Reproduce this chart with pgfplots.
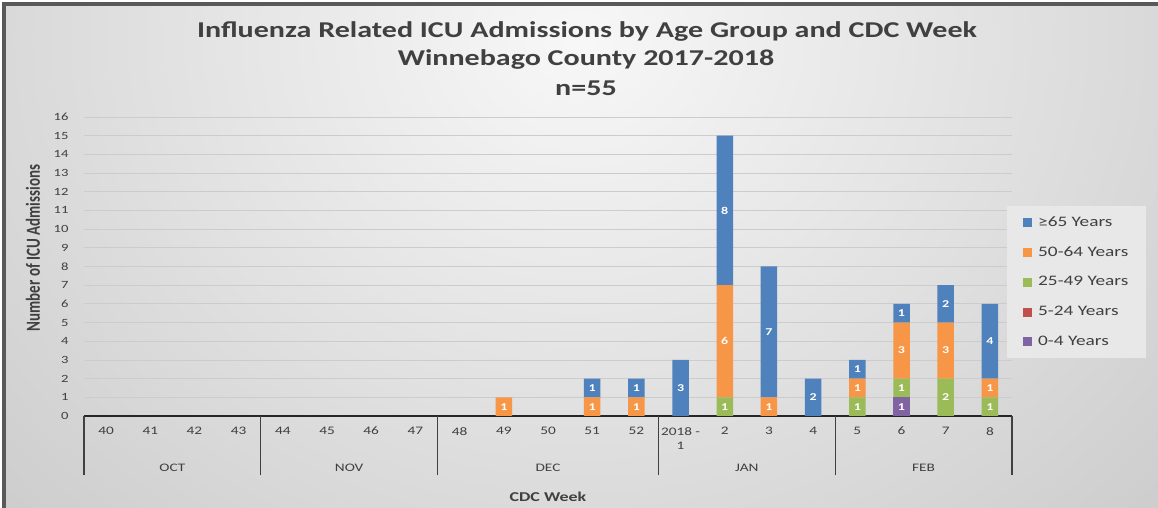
\documentclass[border=0pt]{standalone}
\usepackage{pgfplots}
\usepackage{pgfplotstable}
\pgfplotsset{compat=1.18}
\usepackage{fontspec}
\setmainfont[FakeStretch=1.33]{Carlito}
\newfontfamily\plain{Carlito}
\definecolor{c65}{HTML}{4F81BD}
\definecolor{c50}{HTML}{F79646}
\definecolor{c25}{HTML}{9BBB59}
\definecolor{c5}{HTML}{C0504D}
\definecolor{c0}{HTML}{8064A2}
\definecolor{txt}{HTML}{404040}
% x: 0..20 = weeks 40..52, 2018-1, 2..8
\pgfplotstableread{
x p r g o b
0 0 0 0 0 0
1 0 0 0 0 0
2 0 0 0 0 0
3 0 0 0 0 0
4 0 0 0 0 0
5 0 0 0 0 0
6 0 0 0 0 0
7 0 0 0 0 0
8 0 0 0 0 0
9 0 0 0 1 0
10 0 0 0 0 0
11 0 0 0 1 1
12 0 0 0 1 1
13 0 0 0 0 3
14 0 0 1 6 8
15 0 0 0 1 7
16 0 0 0 0 2
17 0 0 1 1 1
18 1 0 1 3 1
19 0 0 2 3 2
20 0 0 1 1 4
}\data
\begin{document}
\begin{tikzpicture}[x=1pt,y=1pt]
\useasboundingbox (0,0) rectangle (1158,508);
\begin{scope}
\clip (0,0) rectangle (1158,508);
\shade[inner color=white!97!black, outer color=black!32] (-821,-732) rectangle (1979,1668);
\end{scope}
\fill[black!65] (1.5,0) rectangle (6,506);
\fill[black!65] (1.5,501.5) rectangle (1158,505.5);
\fill[white] (0,505.5) rectangle (1158,508);
\fill[white] (0,0) rectangle (1.5,508);
\node[font=\fontsize{22.6}{27}\selectfont\bfseries, text=txt] at (587,508-31) {Influenza Related ICU Admissions by Age Group and CDC Week};
\node[font=\fontsize{22.6}{27}\selectfont\bfseries, text=txt] at (586,508-59) {Winnebago County 2017-2018};
\node[font=\fontsize{22.6}{27}\selectfont\bfseries, text=txt] at (586,508-88) {n=55};
\begin{axis}[
  at={(84pt,92pt)}, anchor=south west,
  scale only axis, width=928pt, height=299pt, clip=false,
  xmin=-0.5, xmax=20.5, ymin=0, ymax=16,
  ybar stacked, bar width=16.5pt,
  axis x line=bottom, axis y line=left,
  x axis line style={-, draw=black!85, line width=1.5pt},
  y axis line style={draw=none},
  ytick={0,...,16}, xtick={0,...,20},
  xticklabels={40,41,42,43,44,45,46,47,48,49,50,51,52,{2018 -\\1},2,3,4,5,6,7,8},
  major tick length=0pt,
  /pgf/number format/assume math mode=true,
  ymajorgrids, grid style={black!20, line width=0.8pt},
  yticklabel style={font=\fontsize{11}{12}\selectfont, text=txt, xshift=-12pt},
  xticklabel style={font=\fontsize{11.5}{14}\selectfont, text=txt, align=center, anchor=north, inner sep=0pt, yshift=-11pt},
  extra x ticks={-0.5,3.5,7.5,12.5,16.5,20.5},
  extra x tick labels={},
  extra x tick style={major tick length=59pt, tick align=outside, tick style={draw=txt, line width=1.3pt}, grid=none},
  nodes near coords={\pgfmathfloatifflags{\pgfplotspointmeta}{0}{}{\pgfmathprintnumber{\pgfplotspointmeta}}},
  every node near coord/.append style={font=\bfseries\fontsize{10.5}{12}\selectfont, text=white, anchor=center},
  reverse legend,
  legend style={at={(0.9946,0.7023)}, anchor=north west, fill=black!9, draw=none,
    font=\fontsize{14.5}{16}\selectfont, text=txt, inner xsep=16pt, inner ysep=8pt,
    row sep=12.8pt, nodes={inner sep=2pt, text height=10pt, text depth=3pt},
    /tikz/every odd column/.append style={column sep=4pt}},
  legend cell align=left,
  legend image code/.code={\fill[#1] (0pt,-4.5pt) rectangle (9pt,4.5pt);},
]
\addplot[fill=c0, draw=none] table[x=x,y=p]{\data};
\addlegendentry{0-4 Years}
\addplot[fill=c5, draw=none] table[x=x,y=r]{\data};
\addlegendentry{5-24 Years}
\addplot[fill=c25, draw=none] table[x=x,y=g]{\data};
\addlegendentry{25-49 Years}
\addplot[fill=c50, draw=none] table[x=x,y=o]{\data};
\addlegendentry{50-64 Years}
\addplot[fill=c65, draw=none] table[x=x,y=b]{\data};
\addlegendentry{≥65 Years}
\node[font=\fontsize{11.5}{13}\selectfont, text=txt] at ([yshift=-52pt]axis cs:1.5,0) {OCT};
\node[font=\fontsize{11.5}{13}\selectfont, text=txt] at ([yshift=-52pt]axis cs:5.5,0) {NOV};
\node[font=\fontsize{11.5}{13}\selectfont, text=txt] at ([yshift=-52pt]axis cs:10,0) {DEC};
\node[font=\fontsize{11.5}{13}\selectfont, text=txt] at ([yshift=-52pt]axis cs:14.5,0) {JAN};
\node[font=\fontsize{11.5}{13}\selectfont, text=txt] at ([yshift=-52pt]axis cs:18.5,0) {FEB};
\node[font=\fontsize{13.5}{15}\selectfont\bfseries, text=txt] at ([yshift=-81pt]rel axis cs:0.5,0) {CDC Week};
\node[font=\plain\fontsize{15}{17}\selectfont\bfseries, text=txt, xscale=1.33, rotate=90, transform shape] at ([xshift=-51pt]rel axis cs:0,0.562) {Number of ICU Admissions};
\end{axis}
\end{tikzpicture}
\end{document}
